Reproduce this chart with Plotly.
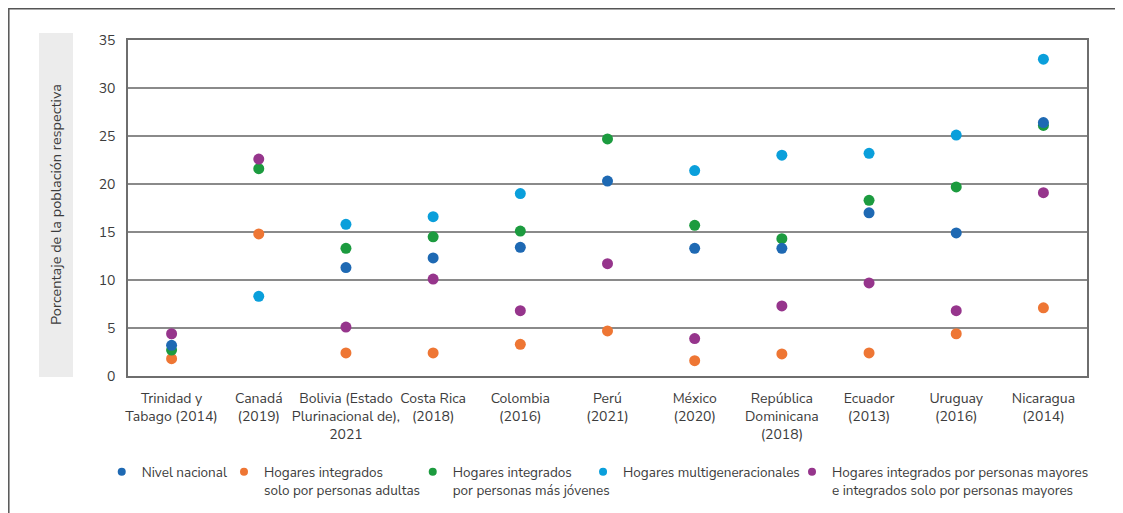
import plotly.graph_objects as go

categories = [
    "Trinidad y<br>Tabago (2014)", "Canadá<br>(2019)", "Bolivia (Estado<br>Plurinacional de),<br>2021",
    "Costa Rica<br>(2018)", "Colombia<br>(2016)", "Perú<br>(2021)", "México<br>(2020)",
    "República<br>Dominicana<br>(2018)", "Ecuador<br>(2013)", "Uruguay<br>(2016)", "Nicaragua<br>(2014)",
]
nivel_nacional = [3.2, None, 11.3, 12.3, 13.4, 20.3, 13.3, 13.3, 17.0, 14.9, 26.4]
solo_adultas = [1.8, 14.8, 2.4, 2.4, 3.3, 4.7, 1.6, 2.3, 2.4, 4.4, 7.1]
mas_jovenes = [2.7, 21.6, 13.3, 14.5, 15.1, 24.7, 15.7, 14.3, 18.3, 19.7, 26.1]
multigeneracionales = [None, 8.3, 15.8, 16.6, 19.0, None, 21.4, 23.0, 23.2, 25.1, 33.0]
personas_mayores = [4.4, 22.6, 5.1, 10.1, 6.8, 11.7, 3.9, 7.3, 9.7, 6.8, 19.1]
y_ticks = [0, 5, 10, 15, 20, 25, 30, 35]

series_names = [
    "Nivel nacional",
    "Hogares integrados<br>solo por personas adultas",
    "Hogares integrados<br>por personas más jóvenes",
    "Hogares multigeneracionales",
    "Hogares integrados por personas mayores<br>e integrados solo por personas mayores",
]
series_values = [nivel_nacional, solo_adultas, mas_jovenes, multigeneracionales, personas_mayores]
series_colors = ["#1e69b3", "#ee7634", "#1c9b3f", "#0a9fdb", "#96358c"]
draw_order = [1, 2, 3, 4, 0]          # blue drawn last (on top)
legend_x = [-0.0274, 0.1001, 0.2969, 0.4745, 0.6924]

font_family = "Nunito Sans, Open Sans, sans-serif"
text_color = "#3c3c3c"

# page is offset by the 8px body margin: figure drawn 8px smaller
W, H = 1115, 505
PL, PR, PT, PB = 120, 36, 32, 137

fig = go.Figure()
for i in draw_order:
    fig.add_trace(go.Scatter(
        x=categories, y=series_values[i], mode="markers", name=series_names[i],
        marker=dict(size=11, color=series_colors[i], line=dict(width=0)),
        showlegend=False,
    ))
# legend entries (smaller dots), one legend each so they can be placed individually
legend_layouts = {}
for i in range(5):
    key = "legend" if i == 0 else f"legend{i + 1}"
    fig.add_trace(go.Scatter(
        x=[categories[0]], y=[None], mode="markers", name=series_names[i],
        marker=dict(size=8, color=series_colors[i]),
        showlegend=True, legend=key, hoverinfo="skip",
    ))
    legend_layouts[key] = dict(
        orientation="h", x=legend_x[i], xanchor="left",
        yref="container", y=0.1119, yanchor="top",
        font=dict(size=13.5, color=text_color, family=font_family), valign="top",
        itemwidth=30, bgcolor="rgba(0,0,0,0)",
    )

fig.update_layout(
    width=W, height=H,
    margin=dict(l=PL, r=PR, t=PT, b=PB, autoexpand=False),
    paper_bgcolor="white", plot_bgcolor="white",
    font=dict(family=font_family, size=14, color=text_color),
    showlegend=True,
    xaxis=dict(
        type="category", range=[-0.5, 10.5], showgrid=False,
        showline=True, linecolor="#6e6e6e", linewidth=1.5, mirror=True,
        ticks="", tickangle=0, ticklabelstandoff=8, tickfont=dict(size=14, color=text_color),
    ),
    yaxis=dict(
        range=[0, 35], tickvals=y_ticks, showgrid=True, gridcolor="#8a8a8a", gridwidth=1.5,
        showline=True, linecolor="#6e6e6e", linewidth=1.5, mirror=True,
        zeroline=False, ticks="", ticklabelstandoff=8,
        tickfont=dict(size=14, color=text_color),
    ),
    **legend_layouts,
)

PW = W - PL - PR
PH = H - PT - PB


def px(page_x):
    return (page_x - 8 - PL) / PW


def py(page_y):
    return (H - PB - (page_y - 8)) / PH


# gray box behind the y-axis title
fig.add_shape(type="rect", xref="paper", yref="paper",
              x0=px(39), x1=px(73), y0=py(377), y1=py(33),
              fillcolor="#ececec", line=dict(width=0), layer="below")
fig.add_annotation(text="Porcentaje de la población respectiva", xref="paper", yref="paper",
                   x=px(56), y=py(205), textangle=-90, showarrow=False,
                   font=dict(size=14.5, color=text_color), xanchor="center", yanchor="middle")
# outer frame
fig.add_shape(type="rect", xref="paper", yref="paper",
              x0=px(8.8), x1=px(1120), y0=py(560), y1=py(8.8),
              line=dict(color="#555", width=1.5), fillcolor="rgba(0,0,0,0)")

fig.write_html("out.html")
